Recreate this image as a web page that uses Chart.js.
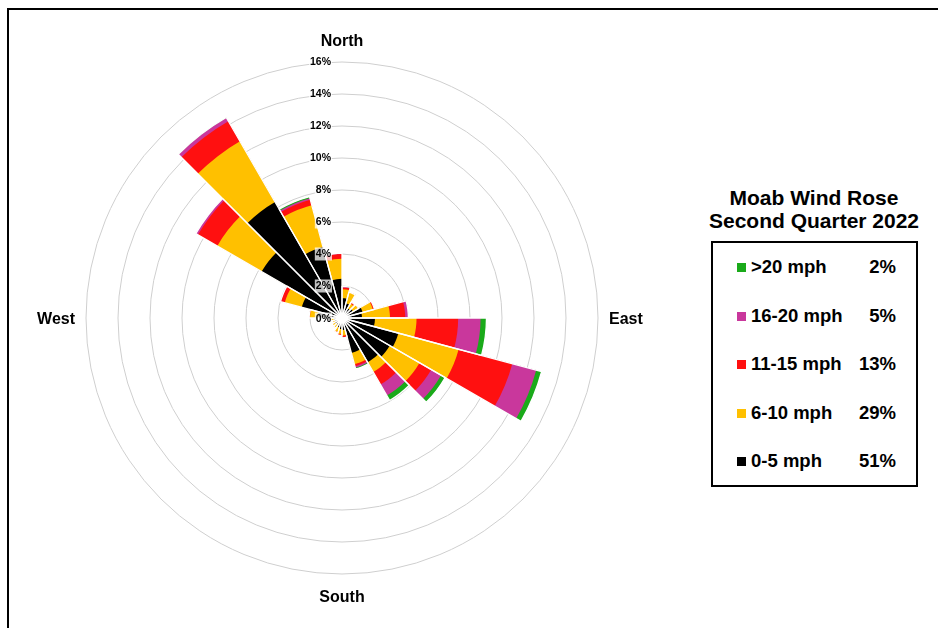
<!DOCTYPE html>
<html>
<head>
<meta charset="utf-8">
<title>Moab Wind Rose</title>
<script src="https://cdn.jsdelivr.net/npm/chart.js@4.4.1/dist/chart.umd.min.js"></script>
<style>
  html, body {
    margin: 0;
    padding: 0;
    background: #fff;
    width: 938px;
    height: 628px;
    overflow: hidden;
    font-family: "Liberation Sans", Arial, sans-serif;
  }
  .frame {
    position: absolute;
    left: 7px;
    top: 8px;
    width: 931px;
    height: 620px;
    border-left: 2px solid #000;
    border-top: 2px solid #000;
    box-sizing: border-box;
  }
  .chart-box {
    position: absolute;
    left: 0;
    top: 0;
    width: 684px;
    height: 628px;
  }
  .legend-title {
    position: absolute;
    left: 700px;
    top: 186px;
    width: 228px;
    text-align: center;
    font-weight: bold;
    font-size: 21px;
    line-height: 23px;
    color: #000;
  }
  .legend-box {
    position: absolute;
    left: 711px;
    top: 241px;
    width: 207px;
    height: 246px;
    border: 2px solid #000;
    box-sizing: border-box;
  }
  .legend-row {
    position: absolute;
    left: 0;
    width: 100%;
    height: 22px;
    font-weight: bold;
    font-size: 18.5px;
    line-height: 22px;
    color: #000;
  }
  .legend-row .mark {
    position: absolute;
    left: 24px;
    top: 7px;
    width: 9px;
    height: 9px;
  }
  .legend-row .name {
    position: absolute;
    left: 38px;
  }
  .legend-row .share {
    position: absolute;
    right: 20px;
  }
</style>
</head>
<body>
<div class="frame"></div>
<div class="chart-box"><canvas id="roseChart"></canvas></div>
<div class="legend-title">Moab Wind Rose<br>Second Quarter 2022</div>
<div class="legend-box" id="legendBox"></div>

<script>
// Direction bins, 15 degrees each, clockwise from North
const directions = ['0°', '15°', '30°', '45°', '60°', '75°', '90°', '105°', '120°', '135°', '150°', '165°',
                    '180°', '195°', '210°', '225°', '240°', '255°', '270°', '285°', '300°', '315°', '330°', '345°'];
const compassIndex = [0, 6, 12, 18];
const compassNames = ['North', 'East', 'South', 'West'];

// Percent of time per direction bin, by wind speed class
const speed0to5 = [1.24, 0.95, 0.70, 0.80, 1.33, 1.25, 2.06, 3.65, 3.45, 3.20, 2.27, 0.75,
                   0.70, 0.60, 0.50, 0.50, 0.45, 0.50, 1.50, 2.60, 5.80, 8.37, 4.60, 2.45];
const speed6to10 = [0.55, 0.70, 0.35, 0.38, 0.67, 1.75, 2.60, 3.90, 2.15, 0.70, 0.73, 0.35,
                    0.30, 0.30, 0.20, 0.20, 0.15, 0.20, 0.50, 1.10, 3.20, 4.38, 2.70, 1.25];
const speed11to15 = [0.12, 0.02, 0.10, 0.02, 0.10, 0.95, 2.60, 3.47, 0.85, 0.90, 0.12, 0.10,
                     0.10, 0.05, 0.03, 0.02, 0.02, 0.03, 0.05, 0.25, 1.40, 1.45, 0.35, 0.30];
const speed16to20 = [0.05, 0, 0, 0, 0, 0.20, 1.40, 1.55, 0.70, 0.80, 0.10, 0.02,
                     0, 0, 0, 0, 0, 0, 0, 0.03, 0.15, 0.25, 0.10, 0.05];
const speedOver20 = [0.02, 0, 0, 0, 0, 0, 0.37, 0.35, 0.30, 0.35, 0.08, 0.02,
                     0, 0, 0, 0, 0, 0, 0, 0, 0, 0.02, 0.10, 0];

// Legend (top to bottom) and share of total time
const legendNames = ['>20 mph', '16-20 mph', '11-15 mph', '6-10 mph', '0-5 mph'];
const legendShares = [2, 5, 13, 29, 51];
const legendColors = ['#1aaa1a', '#c9379c', '#ff1010', '#ffc000', '#000000'];

const radialTicks = [0, 2, 4, 6, 8, 10, 12, 14, 16];

/**
 * Running totals so every ring sits on the one inside it
 */
function stackUp(series) {
    const out = [];
    let run = directions.map(() => 0);
    series.forEach(s => {
        run = run.map((v, i) => v + s[i]);
        out.push(run.slice());
    });
    return out;
}

const stacked = stackUp([speed0to5, speed6to10, speed11to15, speed16to20, speedOver20]);
const stackColors = legendColors.slice().reverse();
const stackNames = legendNames.slice().reverse();

const datasets = [{
    // white separators between the direction bars, drawn on top
    label: 'gaps',
    data: stacked[stacked.length - 1],
    backgroundColor: 'rgba(0,0,0,0)',
    borderColor: '#ffffff',
    borderWidth: 1.3
}];
stacked.forEach((vals, i) => {
    datasets.push({
        label: stackNames[i],
        data: vals,
        backgroundColor: stackColors[i],
        borderWidth: 0
    });
});

// Tick labels and compass names, placed through the radial scale
const roseLabels = {
    id: 'roseLabels',
    afterDatasetsDraw(chart) {
        const r = chart.scales.r;
        const ctx = chart.ctx;
        ctx.save();

        ctx.font = 'bold 10.5px "Liberation Sans", Arial, sans-serif';
        ctx.textAlign = 'right';
        ctx.textBaseline = 'middle';
        r.ticks.forEach(t => {
            const text = `${t.value}%`;
            const y = r.yCenter - r.getDistanceFromCenterForValue(t.value) + (t.value === 0 ? 1 : 0);
            const x = r.xCenter - 11;
            const w = ctx.measureText(text).width;
            ctx.fillStyle = 'rgba(255,255,255,0.75)';
            ctx.fillRect(x - w - 1, y - 6.5, w + 2, 13);
            ctx.fillStyle = '#000';
            ctx.fillText(text, x, y);
        });

        ctx.font = 'bold 16px "Liberation Sans", Arial, sans-serif';
        compassIndex.forEach((idx, k) => {
            const probe = r.getPointPosition(idx, 1);
            const cos = Math.cos(probe.angle);
            const centred = Math.abs(cos) < 0.1;
            const p = r.getPointPosition(idx, r.drawingArea + (centred ? 22 : 11));
            ctx.textAlign = centred ? 'center' : (cos > 0 ? 'left' : 'right');
            ctx.fillText(compassNames[k], p.x, p.y + 2);
        });

        ctx.restore();
    }
};

new Chart(document.getElementById('roseChart').getContext('2d'), {
    type: 'polarArea',
    data: {
        labels: directions,
        datasets: datasets
    },
    options: {
        responsive: true,
        maintainAspectRatio: false,
        animation: false,
        events: [],
        layout: {
            padding: { left: 86, right: 86, top: 62, bottom: 54 }
        },
        plugins: {
            legend: { display: false },
            tooltip: { enabled: false }
        },
        scales: {
            r: {
                min: radialTicks[0],
                max: radialTicks[radialTicks.length - 1],
                startAngle: 0,
                ticks: { display: false, stepSize: radialTicks[1] - radialTicks[0] },
                grid: { circular: true, color: '#cfcfcf', lineWidth: 1 },
                angleLines: { display: false },
                pointLabels: { display: false }
            }
        }
    },
    plugins: [roseLabels]
});

// Legend box
const legendBox = document.getElementById('legendBox');
legendNames.forEach((name, i) => {
    const row = document.createElement('div');
    row.className = 'legend-row';
    row.style.top = (13 + i * 48.5) + 'px';
    row.innerHTML = `<span class="mark" style="background:${legendColors[i]}"></span>` +
                    `<span class="name">${name.replace('>', '&gt;')}</span>` +
                    `<span class="share">${legendShares[i]}%</span>`;
    legendBox.appendChild(row);
});
</script>
</body>
</html>
